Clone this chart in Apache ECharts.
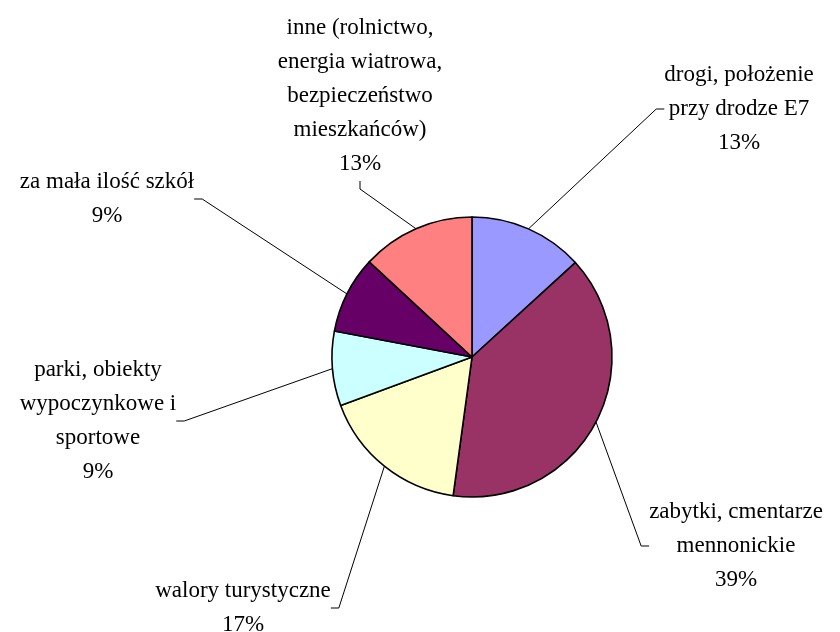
<!DOCTYPE html>
<html>
<head>
<meta charset="utf-8">
<script src="https://cdn.jsdelivr.net/npm/echarts@6/dist/echarts.min.js"></script>
<style>
  html, body { margin: 0; padding: 0; background: #fff; }
  #chart { width: 840px; height: 632px; }
</style>
</head>
<body>
<div id="chart"></div>
<script>
const categories = [
  "drogi, położenie\nprzy drodze E7",
  "zabytki, cmentarze\nmennonickie",
  "walory turystyczne",
  "parki, obiekty\nwypoczynkowe i\nsportowe",
  "za mała ilość szkół",
  "inne (rolnictwo,\nenergia wiatrowa,\nbezpieczeństwo\nmieszkańców)"
]
const values = [13.2, 38.9, 17.2, 8.6, 8.9, 13.1]
const colors = ["#9999FF", "#993366", "#FFFFCC", "#CCFFFF", "#660066", "#FF8080"]

// label block centres, in px
const labelPos = [
  [739, 109],
  [736, 546],
  [243, 608],
  [98, 421],
  [107, 199],
  [360, 96]
]

let myChart = echarts.init(document.getElementById("chart"))

myChart.setOption({
  backgroundColor: "#fff",
  animation: false,
  series: [
    {
      type: "pie",
      center: [472, 357],
      radius: 140,
      startAngle: 90,
      clockwise: true,
      percentPrecision: 0,
      emphasis: { disabled: true },
      itemStyle: { borderColor: "#000", borderWidth: 1.6 },
      label: {
        show: true,
        position: "outside",
        formatter: "{b}\n{d}%",
        fontFamily: "Liberation Serif",
        fontSize: 23,
        lineHeight: 34,
        color: "#000",
        align: "center"
      },
      labelLine: {
        show: true,
        length: 10,
        length2: 8,
        minTurnAngle: 0,
        lineStyle: { color: "#000", width: 1 }
      },
      labelLayout: params => {
        const p = labelPos[params.dataIndex]
        return { x: p[0], y: p[1], align: "center", verticalAlign: "middle" }
      },
      data: categories.map((name, i) => ({
        name: name,
        value: values[i],
        itemStyle: { color: colors[i] }
      }))
    }
  ]
})
</script>
</body>
</html>
